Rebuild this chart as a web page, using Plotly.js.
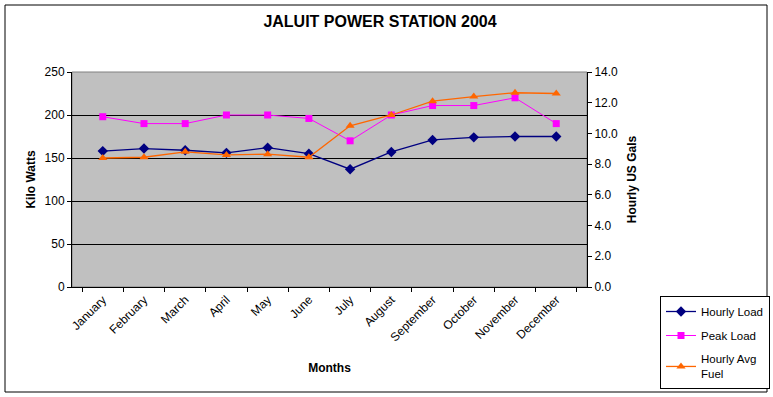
<!DOCTYPE html>
<html>
<head>
<meta charset="utf-8">
<script src="https://cdn.plot.ly/plotly-3.0.1.min.js"></script>
<style>html,body{margin:0;padding:0;background:#fff;}#chart{width:773px;height:397px;}</style>
</head>
<body>
<div id="chart"></div>
<script>
const months = ["January","February","March","April","May","June","July","August","September","October","November","December"];
const hourlyLoad = [158, 161, 159, 156, 162, 155, 137, 157, 171, 174, 175, 175];
const peakLoad = [198, 190, 190, 200, 200, 196, 170, 200, 211, 211, 220, 190];
const hourlyAvgFuel = [8.4, 8.45, 8.8, 8.6, 8.65, 8.45, 10.5, 11.2, 12.1, 12.4, 12.65, 12.6];
const leftTicks = [0, 50, 100, 150, 200, 250];
const rightTicks = [0, 2, 4, 6, 8, 10, 12, 14];

const FONT = "Liberation Sans, Arial, sans-serif";
const traces = [
  {x: months, y: hourlyLoad, name: "Hourly Load", legendgroup: "a", type: "scatter", mode: "lines+markers",
   line: {color: "#000080", width: 1.3}, marker: {symbol: "diamond", size: 8, color: "#000080"}},
  {x: months, y: peakLoad, name: "Peak Load", legendgroup: "b", type: "scatter", mode: "lines+markers",
   line: {color: "#FF00FF", width: 1}, marker: {symbol: "square", size: 7, color: "#FF00FF"}},
  {x: months, y: hourlyAvgFuel, name: "Hourly Avg<br>Fuel", legendgroup: "c", type: "scatter", mode: "lines+markers", yaxis: "y2",
   line: {color: "#FF6600", width: 1.3}, marker: {symbol: "triangle-up", size: 8, color: "#FF6600"}}
];

const layout = {
  width: 773, height: 397,
  margin: {l: 72, r: 186, t: 72, b: 110},
  paper_bgcolor: "#ffffff",
  plot_bgcolor: "#C0C0C0",
  font: {family: FONT, size: 12, color: "#000"},
  showlegend: true,
  title: {text: "<b>JALUIT POWER STATION 2004</b>", font: {family: FONT, size: 16, color: "#000"},
          xref: "container", x: 0.4916, yref: "container", y: 0.945, xanchor: "center", yanchor: "middle"},
  xaxis: {type: "category", showline: true, linecolor: "#000", linewidth: 1, mirror: false,
          ticks: "outside", ticklen: 4, tickcolor: "#000", tickson: "boundaries",
          tickangle: -45, showgrid: false, zeroline: false, automargin: false,
          tickfont: {family: FONT, size: 12, color: "#000"},
          title: {text: "<b>Months</b>", font: {family: FONT, size: 12, color: "#000"}, standoff: 20}},
  yaxis: {range: [0, 250], tickvals: leftTicks, showline: true, linecolor: "#000", linewidth: 1,
          ticks: "outside", ticklen: 4, tickcolor: "#000", showgrid: true, gridcolor: "#000", gridwidth: 1,
          zeroline: false, automargin: false, tickfont: {family: FONT, size: 12, color: "#000"},
          title: {text: "<b>Kilo Watts</b>", font: {family: FONT, size: 12, color: "#000"}, standoff: 6}},
  yaxis2: {range: [0, 14], tickvals: rightTicks, tickformat: ".1f", overlaying: "y", side: "right",
          showline: true, linecolor: "#000", linewidth: 1, ticks: "outside", ticklen: 4, tickcolor: "#000",
          showgrid: false, zeroline: false, automargin: false, tickfont: {family: FONT, size: 12, color: "#000"},
          title: {text: "<b>Hourly US Gals</b>", font: {family: FONT, size: 12, color: "#000"}, standoff: 10}},
  legend: {xref: "container", yref: "container", x: 660/773, y: 1 - 296/397, xanchor: "left", yanchor: "top",
           bgcolor: "#ffffff", bordercolor: "#000", borderwidth: 1,
           font: {family: FONT, size: 11.5, color: "#000"}, tracegroupgap: 5, itemwidth: 30},
  shapes: [
    {type: "rect", xref: "paper", yref: "paper", x0: 0, x1: 1, y0: 0, y1: 1,
     line: {color: "#808080", width: 1}, layer: "below"},
    {type: "rect", xref: "paper", yref: "paper", x0: -67/515, x1: 695/515, y0: -105/215, y1: 282/215,
     line: {color: "#000", width: 1}, fillcolor: "rgba(0,0,0,0)", layer: "below"}
  ]
};

Plotly.newPlot("chart", traces, layout, {displayModeBar: false, staticPlot: true});
</script>
</body>
</html>
